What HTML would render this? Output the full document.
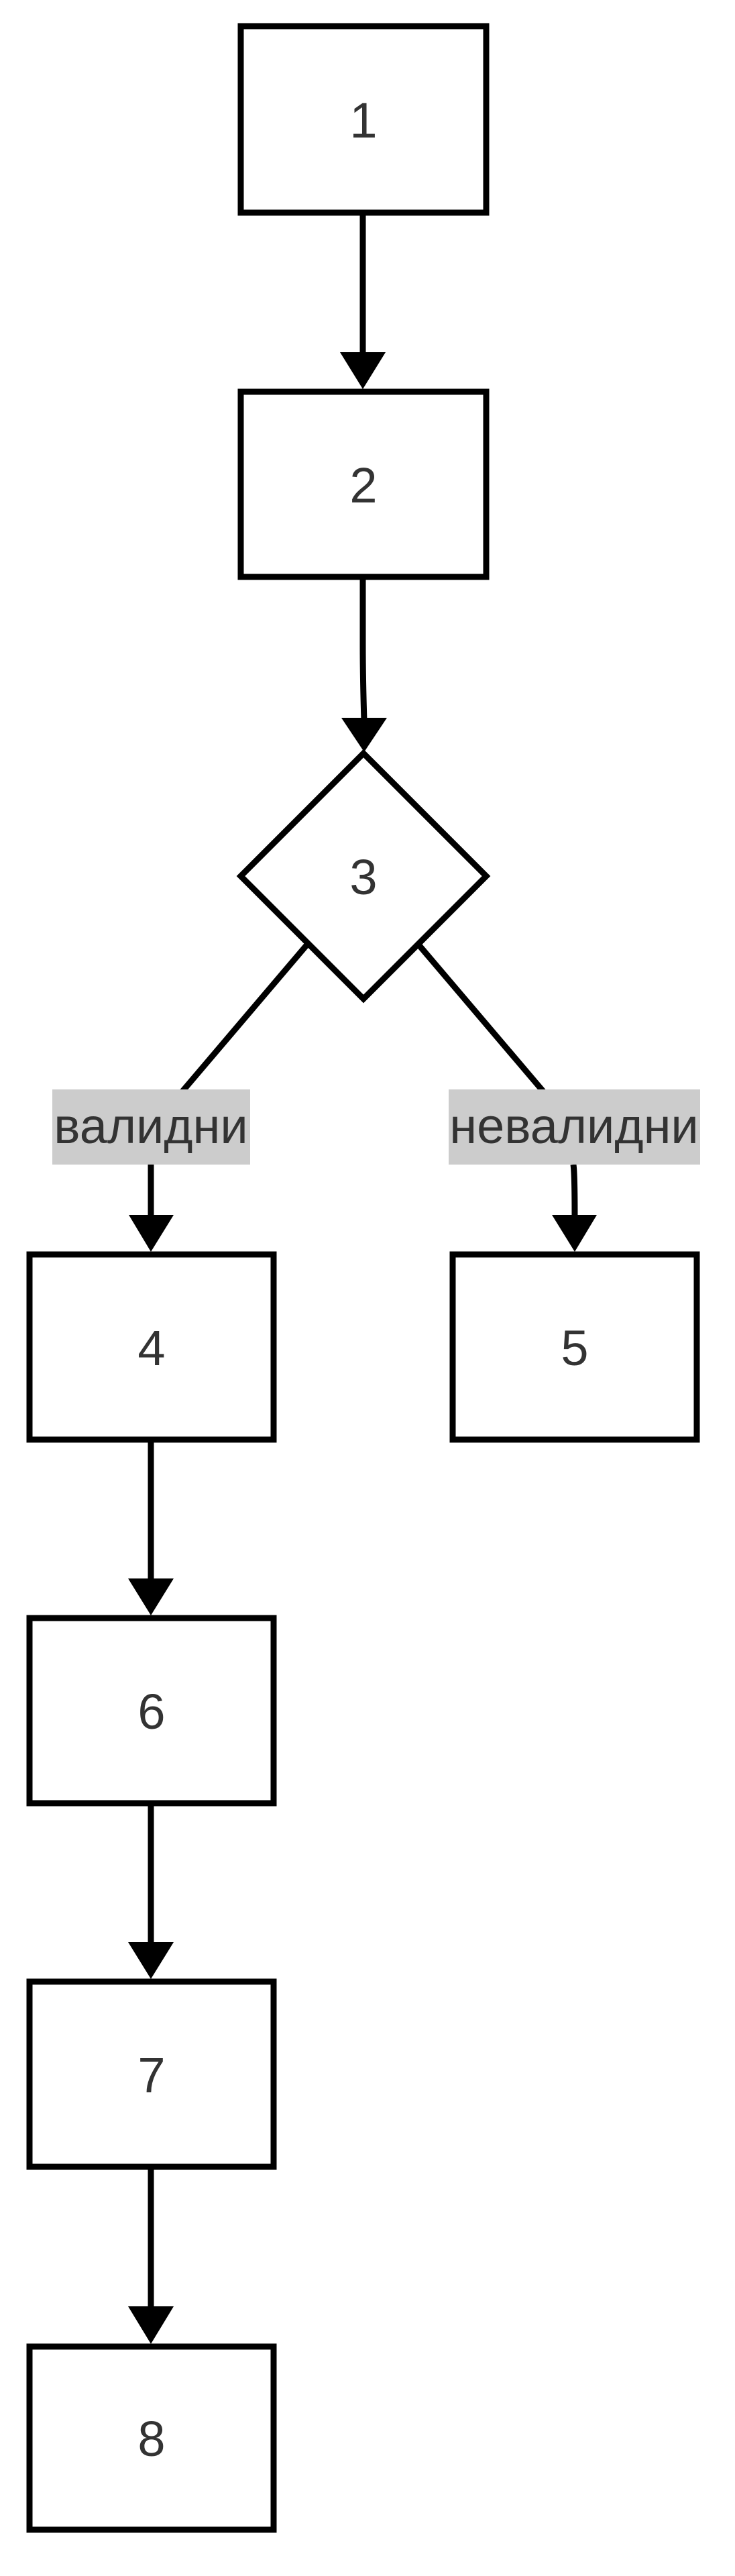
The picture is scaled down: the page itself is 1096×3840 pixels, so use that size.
<!DOCTYPE html>
<html><head><meta charset="utf-8"><style>
html,body{margin:0;padding:0;background:#fff;}
svg{display:block;}
text{font-family:"Liberation Sans",Arial,sans-serif;fill:#333;}
</style></head><body>
<svg width="1096" height="3840" viewBox="0 0 1096 3840" xmlns="http://www.w3.org/2000/svg">
<g fill="none" stroke="#000" stroke-width="9">
<rect x="359" y="39" width="366" height="278"/>
<rect x="359" y="584" width="366" height="276"/>
<polygon points="542,1123 725,1306 542,1489 359,1306"/>
<rect x="44" y="1870" width="364" height="276"/>
<rect x="675" y="1870" width="364" height="276"/>
<rect x="44" y="2412" width="364" height="276"/>
<rect x="44" y="2954" width="364" height="276"/>
<rect x="44" y="3498" width="364" height="273"/>
<line x1="541" y1="319" x2="541" y2="530"/>
<path d="M541 862 L541 960 Q541 1010 543 1075"/>
<line x1="458" y1="1408" x2="271" y2="1628"/>
<line x1="624" y1="1408" x2="811" y2="1628"/>
<path d="M225 1736 L225 1815"/>
<path d="M855 1736 Q857 1750 857 1815"/>
<line x1="225" y1="2148" x2="225" y2="2360"/>
<line x1="225" y1="2690" x2="225" y2="2900"/>
<line x1="225" y1="3232" x2="225" y2="3444"/>
</g>
<g fill="#000">
<polygon points="507,525 575,525 541,580"/>
<polygon points="509,1070 577,1070 543,1121"/>
<polygon points="192,1811 259,1811 225,1866"/>
<polygon points="823,1811 890,1811 857,1866"/>
<polygon points="191,2353 259,2353 225,2408"/>
<polygon points="191,2895 259,2895 225,2950"/>
<polygon points="191,3438 259,3438 225,3494"/>
</g>
<rect x="78" y="1624" width="295" height="112" fill="#ccc"/>
<rect x="669" y="1624" width="375" height="112" fill="#ccc"/>
<g font-size="74" text-anchor="middle">
<text x="542" y="205">1</text>
<text x="542" y="749">2</text>
<text x="542" y="1333">3</text>
<text x="226" y="2035">4</text>
<text x="857" y="2035">5</text>
<text x="226" y="2577">6</text>
<text x="226" y="3119">7</text>
<text x="226" y="3661">8</text>
<text x="225" y="1704">валидни</text>
<text x="856" y="1704">невалидни</text>
</g>
</svg>
</body></html>
